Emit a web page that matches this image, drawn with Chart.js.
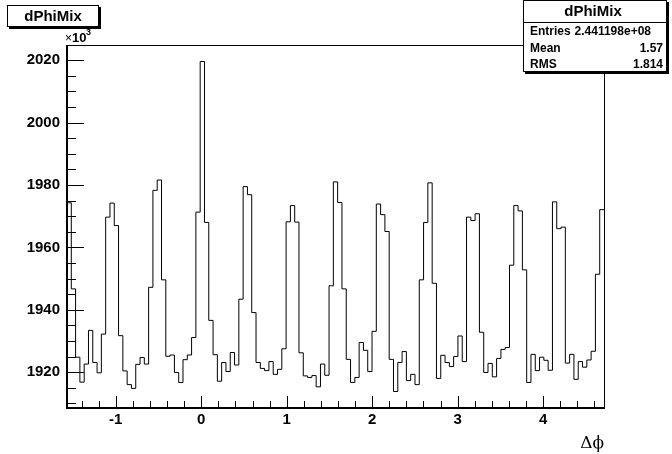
<!DOCTYPE html>
<html>
<head>
<meta charset="utf-8">
<script src="https://cdn.jsdelivr.net/npm/chart.js@4/dist/chart.umd.min.js"></script>
<style>
  html, body { margin: 0; padding: 0; background: #fff; }
  #wrap { width: 672px; height: 454px; }
</style>
</head>
<body>
<div id="wrap"><canvas id="dphiChart" width="672" height="454"></canvas></div>
<script>
/* ===== histogram data (bin contents in units of 10^3) ===== */

const histName = "dPhiMix";
const xMin = -Math.PI / 2;
const xMax = 3 * Math.PI / 2;

const binContents = [
  1974.3, 1946.7, 1924.8, 1916.8, 1922.6, 1933.4, 1923.1, 1919.8, 1932.2, 1969.7,
  1974.2, 1967.0, 1931.7, 1920.4, 1916.0, 1914.8, 1922.5, 1924.7, 1922.6, 1947.2,
  1978.3, 1981.6, 1949.6, 1925.1, 1925.5, 1919.9, 1916.7, 1924.0, 1925.5, 1931.1,
  1971.3, 2019.6, 1968.0, 1936.6, 1925.6, 1917.1, 1923.1, 1920.2, 1926.3, 1922.3,
  1943.4, 1979.5, 1976.9, 1939.1, 1923.1, 1921.2, 1920.5, 1923.4, 1919.3, 1920.9,
  1927.5, 1968.2, 1973.4, 1968.1, 1926.2, 1918.8, 1918.3, 1918.9, 1915.3, 1922.6,
  1919.0, 1947.7, 1981.0, 1974.4, 1946.7, 1924.1, 1916.7, 1918.3, 1929.5, 1927.0,
  1920.2, 1933.1, 1973.9, 1970.5, 1965.1, 1924.1, 1913.8, 1923.1, 1926.6, 1917.3,
  1919.3, 1916.0, 1949.6, 1968.0, 1980.7, 1948.5, 1918.0, 1925.4, 1923.1, 1921.8,
  1925.0, 1931.6, 1923.4, 1969.7, 1968.6, 1970.8, 1932.8, 1919.9, 1922.8, 1918.5,
  1924.4, 1927.3, 1927.9, 1954.3, 1973.4, 1971.7, 1952.8, 1916.7, 1925.7, 1920.5,
  1924.8, 1923.8, 1920.6, 1974.6, 1966.0, 1966.5, 1922.9, 1925.7, 1917.7, 1923.4,
  1921.6, 1923.9, 1926.7, 1951.4, 1972.1
];

const xTickValues = [-1, 0, 1, 2, 3, 4];
const yTickValues = [1920, 1940, 1960, 1980, 2000, 2020];
const xMinorStep = 0.2;
const yMinorStep = 5;

const statsLabels = ["Entries", "Mean", "RMS"];
const statsValues = ["2.441198e+08", "1.57", "1.814"];

// ROOT style: 5% margin above the max and below the min
const dataMax = Math.max(...binContents);
const dataMin = Math.min(...binContents);
const yMax = dataMax + 0.05 * (dataMax - dataMin);
const yMin = dataMin - 0.05 * (dataMax - dataMin);

// step outline: one point per bin low edge, plus the upper edge of the last bin
const binWidth = (xMax - xMin) / binContents.length;
const histPoints = binContents.map((v, i) => ({ x: xMin + i * binWidth, y: v }));
histPoints.push({ x: xMax, y: binContents[binContents.length - 1] });

const labelFont = { family: "'Liberation Sans', Arial, sans-serif", size: 15, weight: "bold" };

/* ===== frame, inside ticks, title and stats boxes (ROOT look) ===== */

function shadowBox(ctx, x, y, w, h) {
  ctx.fillStyle = "#000";
  ctx.fillRect(x + 2, y + 2, w, h);
  ctx.fillStyle = "#fff";
  ctx.fillRect(x, y, w, h);
  ctx.strokeStyle = "#000";
  ctx.lineWidth = 1;
  ctx.strokeRect(x + 0.5, y + 0.5, w - 1, h - 1);
}

const rootFrame = {
  id: "rootFrame",
  afterDraw(chart) {
    const ctx = chart.ctx;
    const a = chart.chartArea;
    const xs = chart.scales.x, ys = chart.scales.y;
    ctx.save();

    // frame
    ctx.strokeStyle = "#000";
    ctx.lineWidth = 1;
    ctx.strokeRect(Math.round(a.left) + 0.5, Math.round(a.top) + 0.5,
                   Math.round(a.right - a.left), Math.round(a.bottom - a.top));
    ctx.fillStyle = "#000";
    ctx.fillRect(Math.round(a.left) - 1, Math.round(a.top), 2, Math.round(a.bottom - a.top) + 1);
    ctx.fillRect(Math.round(a.left) - 1, Math.round(a.bottom) - 1, Math.round(a.right - a.left) + 2, 2);

    // ticks drawn inward
    ctx.beginPath();
    for (let v = Math.ceil(yMin / yMinorStep) * yMinorStep; v <= yMax; v += yMinorStep) {
      const py = Math.round(ys.getPixelForValue(v)) + 0.5;
      const len = yTickValues.includes(v) ? 17 : 9;
      ctx.moveTo(a.left, py);
      ctx.lineTo(a.left + len, py);
    }
    const nMinor = Math.round((xMax - xMin) / xMinorStep) + 2;
    for (let k = -nMinor; k <= nMinor; k++) {
      const v = k * xMinorStep;
      if (v < xMin || v > xMax) continue;
      const px = Math.round(xs.getPixelForValue(v)) + 0.5;
      const isMajor = Math.abs(v - Math.round(v)) < 1e-6;
      ctx.moveTo(px, a.bottom);
      ctx.lineTo(px, a.bottom - (isMajor ? 12 : 7));
    }
    ctx.stroke();

    // x10^3 exponent label
    ctx.fillStyle = "#000";
    ctx.textBaseline = "alphabetic";
    ctx.textAlign = "left";
    ctx.font = "12px 'Liberation Sans', Arial, sans-serif";
    ctx.fillText("\u00d7", a.left - 2, 42);
    ctx.font = "bold 13px 'Liberation Sans', Arial, sans-serif";
    ctx.fillText("10", a.left + 5, 42);
    ctx.font = "bold 9px 'Liberation Sans', Arial, sans-serif";
    ctx.fillText("3", a.left + 19, 35);

    // axis title
    ctx.font = "17px 'DejaVu Serif', 'Liberation Serif', serif";
    ctx.textAlign = "right";
    ctx.fillText("\u0394\u03d5", a.right, 448);

    // histogram title box
    shadowBox(ctx, 7, 5, 92, 22);
    ctx.fillStyle = "#000";
    ctx.font = "bold 15px 'Liberation Sans', Arial, sans-serif";
    ctx.textAlign = "center";
    ctx.textBaseline = "middle";
    ctx.fillText(histName, 53, 16.5);

    // stats box
    shadowBox(ctx, 523, 0, 144, 72);
    ctx.fillStyle = "#000";
    ctx.fillRect(523, 22, 144, 1);
    ctx.font = "bold 15px 'Liberation Sans', Arial, sans-serif";
    ctx.fillText(histName, 593, 12);
    ctx.font = "bold 12px 'Liberation Sans', Arial, sans-serif";
    const rowY = [32, 48.5, 64.5];
    const valueRight = [651, 663, 663];
    statsLabels.forEach((lab, i) => {
      ctx.textAlign = "left";
      ctx.fillText(lab, 530, rowY[i]);
      ctx.textAlign = "right";
      ctx.fillText(statsValues[i], valueRight[i], rowY[i]);
    });

    ctx.restore();
  }
};

/* ===== chart ===== */

const ctx = document.getElementById("dphiChart");

new Chart(ctx, {
  type: "line",
  data: {
    datasets: [{
      label: histName,
      data: histPoints,
      stepped: "before",
      borderColor: "#000",
      borderWidth: 1,
      pointRadius: 0,
      fill: false,
      tension: 0
    }]
  },
  options: {
    responsive: false,
    animation: false,
    devicePixelRatio: 1,
    layout: { padding: { top: 45, right: 68, left: 0, bottom: 0 } },
    plugins: {
      legend: { display: false },
      tooltip: { enabled: false }
    },
    scales: {
      x: {
        type: "linear",
        min: xMin,
        max: xMax,
        afterBuildTicks: s => { s.ticks = xTickValues.map(v => ({ value: v })); },
        afterFit: s => { s.height = 46; },
        grid: { display: false, drawTicks: false },
        border: { display: false },
        ticks: {
          font: labelFont,
          color: "#000",
          padding: 3,
          maxRotation: 0,
          autoSkip: false,
          callback: v => String(v)
        }
      },
      y: {
        type: "linear",
        min: yMin,
        max: yMax,
        afterBuildTicks: s => { s.ticks = yTickValues.map(v => ({ value: v })); },
        afterFit: s => { s.width = 67; },
        grid: { display: false, drawTicks: false },
        border: { display: false },
        ticks: {
          font: labelFont,
          color: "#000",
          padding: 7,
          autoSkip: false,
          callback: v => String(v)
        }
      }
    }
  },
  plugins: [rootFrame]
});
</script>
</body>
</html>
